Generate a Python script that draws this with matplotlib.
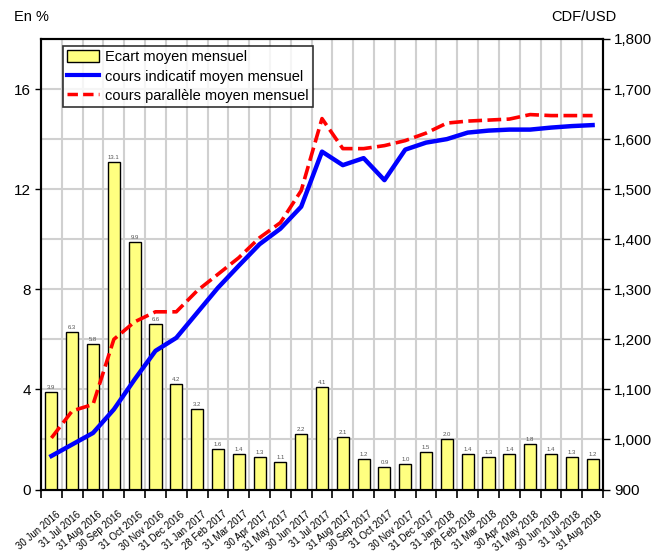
import matplotlib
matplotlib.use("Agg")
import matplotlib.pyplot as plt
import numpy as np
from matplotlib.ticker import FuncFormatter, FixedLocator
from matplotlib.patches import Patch
from matplotlib.lines import Line2D
import matplotlib.transforms as mtransforms

plt.rcParams['font.family'] = ['Liberation Sans', 'DejaVu Sans']

dates = ["30 Jun 2016", "31 Jul 2016", "31 Aug 2016", "30 Sep 2016", "31 Oct 2016",
         "30 Nov 2016", "31 Dec 2016", "31 Jan 2017", "28 Feb 2017", "31 Mar 2017",
         "30 Apr 2017", "31 May 2017", "30 Jun 2017", "31 Jul 2017", "31 Aug 2017",
         "30 Sep 2017", "31 Oct 2017", "30 Nov 2017", "31 Dec 2017", "31 Jan 2018",
         "28 Feb 2018", "31 Mar 2018", "30 Apr 2018", "31 May 2018", "30 Jun 2018",
         "31 Jul 2018", "31 Aug 2018"]
ecart = [3.9, 6.3, 5.8, 13.1, 9.9, 6.6, 4.2, 3.2, 1.6, 1.4, 1.3, 1.1, 2.2, 4.1, 2.1,
         1.2, 0.9, 1.0, 1.5, 2.0, 1.4, 1.3, 1.4, 1.8, 1.4, 1.3, 1.2]
ecart_labels = ["3.9", "6.3", "5.8", "13.1", "9.9", "6.6", "4.2", "3.2", "1.6", "1.4",
                "1.3", "1.1", "2.2", "4.1", "2.1", "1.2", "0.9", "1.0", "1.5", "2.0",
                "1.4", "1.3", "1.4", "1.8", "1.4", "1.3", "1.2"]
indicatif = [967, 990, 1013, 1060, 1120, 1177, 1203, 1253, 1303, 1347, 1390, 1421,
             1465, 1575, 1548, 1562, 1518, 1579, 1593, 1600, 1613, 1617, 1619, 1619,
             1623, 1626, 1628]
parallele = [1003, 1057, 1070, 1200, 1235, 1255, 1255, 1297, 1330, 1363, 1403, 1433,
             1497, 1641, 1581, 1581, 1587, 1597, 1612, 1632, 1636, 1638, 1640, 1649,
             1647, 1647, 1647]

n = len(dates)
x = np.arange(n)

fig = plt.figure(figsize=(6.65, 5.53), dpi=100)
W, H = 665, 553
left, right, top, bottom = 41, 603, 39, 489.5
ax = fig.add_axes([left / W, 1 - bottom / H, (right - left) / W, (bottom - top) / H])

ax.set_xlim(-0.5, n - 0.5)
ax.set_ylim(0, 18)

# grid
for yy in np.arange(2, 18, 2):
    ax.axhline(yy, color='#d0d0d0', lw=1.5, zorder=0)
for xx in np.arange(0.5, n - 0.5, 1):
    ax.axvline(xx, color='#d0d0d0', lw=1.5, zorder=0)

ax.bar(x, ecart, width=0.58, color='#ffff80', edgecolor='black', linewidth=1.0, zorder=2)
for xi, v, lab in zip(x, ecart, ecart_labels):
    ax.text(xi, v + 0.08, lab, ha='center', va='bottom', fontsize=4.3, color='#555555', zorder=3)

ax.set_yticks([0, 4, 8, 12, 16])
ax.set_yticklabels(["0", "4", "8", "12", "16"])
ax.tick_params(axis='y', direction='out', length=4, width=1, labelsize=11, pad=3)

ax.set_xticks(x)
ax.set_xticklabels(dates, rotation=40, ha='right', va='center', rotation_mode='anchor', fontsize=7)
ax.tick_params(axis='x', which='major', length=0, pad=17)
offset = mtransforms.ScaledTranslation(7.5 / 100, 0, fig.dpi_scale_trans)
for lab in ax.get_xticklabels():
    lab.set_transform(lab.get_transform() + offset)
ax.xaxis.set_minor_locator(FixedLocator(np.arange(-0.5, n, 1)))
ax.tick_params(axis='x', which='minor', direction='out', length=6, width=1.2)

for sp in ax.spines.values():
    sp.set_linewidth(1.5)
    sp.set_color('black')

ax2 = ax.twinx()
ax2.set_ylim(900, 1800)
ax2.plot(x, indicatif, color='#0000ff', lw=3.2, zorder=4)
ax2.plot(x, parallele, color='#ff0000', lw=2.6, dashes=(3.8, 1.5), zorder=5)
ax2.set_yticks(np.arange(900, 1801, 100))
ax2.yaxis.set_major_formatter(FuncFormatter(lambda v, p: f"{int(v):,}"))
ax2.tick_params(axis='y', direction='out', length=5, width=1, labelsize=11, pad=3)
for sp in ax2.spines.values():
    sp.set_linewidth(1.5)

handles = [Patch(facecolor='#ffff80', edgecolor='black', linewidth=1.0),
           Line2D([], [], color='#0000ff', lw=3),
           Line2D([], [], color='#ff0000', lw=2.5, dashes=(3, 1.5))]
labels = ["Ecart moyen mensuel", "cours indicatif moyen mensuel", "cours parallèle moyen mensuel"]
leg = ax2.legend(handles, labels, loc='upper left', bbox_to_anchor=(22 / 562, 1 - 7 / 450.5),
                 frameon=True, fancybox=False, edgecolor='black', fontsize=10.5,
                 handlelength=2.2, handleheight=0.9, handletextpad=0.35, labelspacing=0.34,
                 borderpad=0.3, borderaxespad=0)
leg.get_frame().set_linewidth(1.2)
leg.set_zorder(10)

fig.text(14 / W, 1 - 17 / H, "En %", fontsize=10.5, va='center', ha='left')
fig.text(616 / W, 1 - 17 / H, "CDF/USD", fontsize=10.5, va='center', ha='right')

fig.savefig("out.png", dpi=100)
